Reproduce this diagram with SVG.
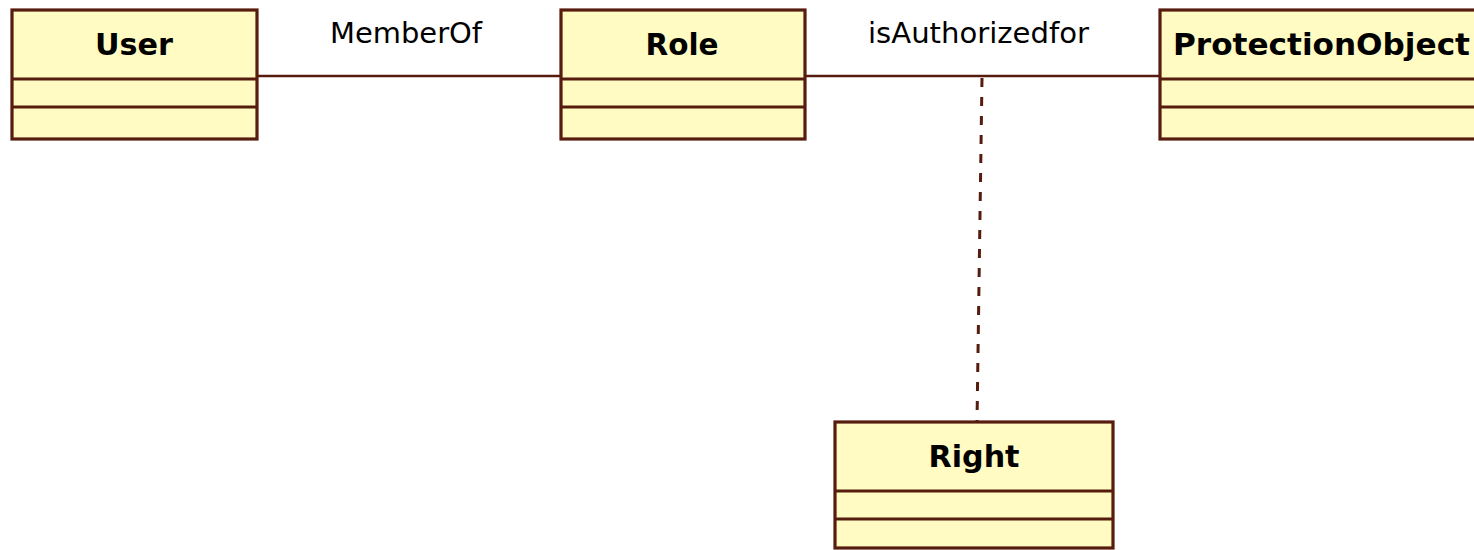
<svg xmlns="http://www.w3.org/2000/svg" width="1474" height="550" viewBox="0 0 1474 550">
  <style>
    .box { fill: #fffbc2; stroke: #561c0e; stroke-width: 3.2; }
    .sep { stroke: #561c0e; stroke-width: 3; }
    .name { font-family: "DejaVu Sans", Verdana, sans-serif; font-weight: bold; font-size: 31px; fill: #000; }
    .label { font-family: "DejaVu Sans", Verdana, sans-serif; font-size: 29px; fill: #000; }
    .assoc { stroke: #561c0e; stroke-width: 2.6; fill: none; }
    .dash { stroke: #561c0e; stroke-width: 3; stroke-dasharray: 9 10; fill: none; }
  </style>
  <rect width="1474" height="550" fill="#ffffff"/>

  <!-- associations -->
  <g id="connectors">
    <line class="assoc" x1="257" y1="76" x2="561" y2="76"/>
    <line class="assoc" x1="805" y1="76" x2="1160" y2="76"/>
    <line class="dash" x1="982" y1="78" x2="977" y2="422"/>
    <text class="label" x="330" y="43" textLength="152" lengthAdjust="spacingAndGlyphs">MemberOf</text>
    <text class="label" x="868" y="43" textLength="221" lengthAdjust="spacingAndGlyphs">isAuthorizedfor</text>
  </g>

  <g id="user">
    <rect class="box" x="12" y="10" width="245" height="129"/>
    <line class="sep" x1="12" y1="79" x2="257" y2="79"/>
    <line class="sep" x1="12" y1="107" x2="257" y2="107"/>
    <text class="name" x="134" y="55" text-anchor="middle" textLength="78" lengthAdjust="spacingAndGlyphs">User</text>
  </g>

  <g id="role">
    <rect class="box" x="561" y="10" width="244" height="129"/>
    <line class="sep" x1="561" y1="79" x2="805" y2="79"/>
    <line class="sep" x1="561" y1="107" x2="805" y2="107"/>
    <text class="name" x="682" y="55" text-anchor="middle" textLength="73" lengthAdjust="spacingAndGlyphs">Role</text>
  </g>

  <g id="protection-object">
    <rect class="box" x="1160" y="10" width="330" height="129"/>
    <line class="sep" x1="1160" y1="79" x2="1490" y2="79"/>
    <line class="sep" x1="1160" y1="107" x2="1490" y2="107"/>
    <text class="name" x="1173" y="55" textLength="297" lengthAdjust="spacingAndGlyphs">ProtectionObject</text>
  </g>

  <g id="right">
    <rect class="box" x="835" y="422" width="278" height="126"/>
    <line class="sep" x1="835" y1="491" x2="1113" y2="491"/>
    <line class="sep" x1="835" y1="519" x2="1113" y2="519"/>
    <text class="name" x="974" y="467" text-anchor="middle" textLength="91" lengthAdjust="spacingAndGlyphs">Right</text>
  </g>
</svg>
